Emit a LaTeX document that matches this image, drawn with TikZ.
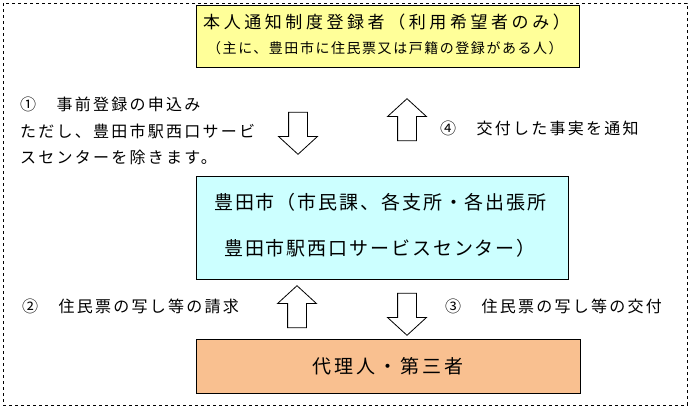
\documentclass[tikz,border=0pt]{standalone}
\usepackage{fontspec}
\setmainfont{Noto Sans CJK JP}
\usetikzlibrary{shapes.arrows}
\definecolor{yel}{HTML}{FFFF99}
\definecolor{cya}{HTML}{CCFFFF}
\definecolor{ora}{HTML}{F9C090}
\newcommand{\fs}[3]{\fontsize{#1pt}{#1pt}\selectfont\addfontfeatures{LetterSpace=#2}#3}
\tikzset{
 box/.style={draw=black,line width=0.8pt,anchor=north west,inner sep=0pt},
 harrow/.style={single arrow,draw=black,line width=0.8pt,fill=white,inner sep=9pt,
   single arrow head extend=10pt,minimum height=42pt,single arrow tip angle=95},
 lbl/.style={anchor=west,inner sep=0pt,font=\fs{16}{14}{}}
}
\begin{document}
\begin{tikzpicture}[x=1pt,y=-1pt]
\useasboundingbox (0,0) rectangle (690,408);
\draw[dashed,line width=0.6pt] (3,3) rectangle (687,405);
\node[box,fill=yel,minimum width=383pt,minimum height=62pt] (top) at (196,5) {};
\node[inner sep=0pt,anchor=west,font=\fs{17}{21}{}] (t1) at (203,22) {本人通知制度登録者（利用希望者のみ）};
\node[inner sep=0pt,anchor=west,font=\fs{14}{11}{}] (t2) at (207,48) {（主に、豊田市に住民票又は戸籍の登録がある人）};
\node[box,fill=cya,minimum width=372pt,minimum height=103pt] (mid) at (196,176) {};
\node[inner sep=0pt,font=\fs{19}{10}{},anchor=west] (m1) at (214,202) {豊田市（市民課、各支所・各出張所};
\node[inner sep=0pt,font=\fs{19}{10}{},anchor=west] (m2) at (224,248) {豊田市駅西口サービスセンター）};
\node[box,fill=ora,minimum width=384pt,minimum height=54pt] (bot) at (196,339) {};
\node[inner sep=0pt,anchor=west,font=\fs{19}{16}{}] (b1) at (312,366) {代理人・第三者};
\node[harrow,shape border rotate=270] (a1) at (298,129) {};
\node[harrow,shape border rotate=90] (a4) at (407,124) {};
\node[harrow,shape border rotate=90] (a2) at (297,311) {};
\node[harrow,shape border rotate=270] (a3) at (407,310) {};
\node[lbl] (l1) at (20,104) {①　事前登録の申込み};
\node[lbl] (l2) at (20,131) {ただし、豊田市駅西口サービ};
\node[lbl] (l3) at (20,157) {スセンターを除きます。};
\node[lbl] (l4) at (440,128) {④　交付した事実を通知};
\node[lbl] (l5) at (22,306) {②　住民票の写し等の請求};
\node[lbl] (l6) at (445,306) {③　住民票の写し等の交付};
\end{tikzpicture}
\end{document}
